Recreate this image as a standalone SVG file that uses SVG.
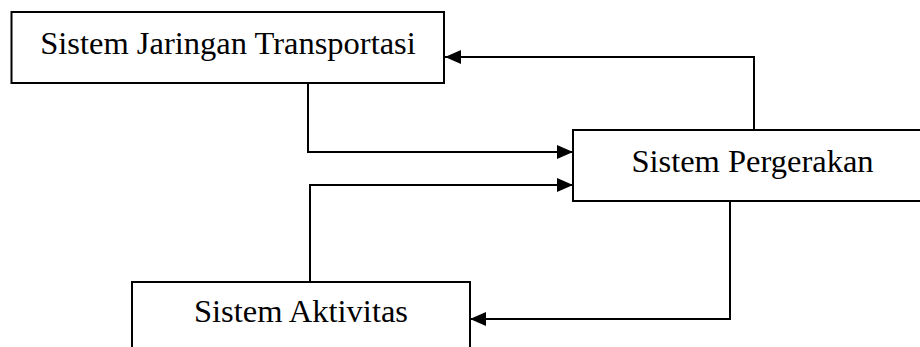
<svg xmlns="http://www.w3.org/2000/svg" width="920" height="347" viewBox="0 0 920 347">
  <style>
    .box { fill: #ffffff; stroke: #000000; stroke-width: 2; }
    .label { font-family: "Liberation Serif", "Times New Roman", serif; font-size: 32.5px; fill: #000000; text-anchor: middle; }
    .link { fill: none; stroke: #000000; stroke-width: 2; marker-end: url(#arrow); }
  </style>
  <defs>
    <marker id="arrow" markerUnits="userSpaceOnUse" markerWidth="16" markerHeight="14" viewBox="0 0 16 14" refX="16" refY="7" orient="auto">
      <path d="M0,0 L16,7 L0,14 Z" fill="#000000"/>
    </marker>
  </defs>
  <rect width="920" height="347" fill="#ffffff"/>

  <g id="connectors">
    <!-- Pergerakan -> Jaringan Transportasi -->
    <path class="link" d="M754,130 V57 H445"/>
    <!-- Jaringan Transportasi -> Pergerakan -->
    <path class="link" d="M308,83 V152 H573"/>
    <!-- Aktivitas -> Pergerakan -->
    <path class="link" d="M310,282 V185 H573"/>
    <!-- Pergerakan -> Aktivitas -->
    <path class="link" d="M730,201 V319 H470"/>
  </g>

  <g id="node-jaringan">
    <rect class="box" x="11.5" y="12" width="432.5" height="71"/>
    <text class="label" x="228" y="54">Sistem Jaringan Transportasi</text>
  </g>

  <g id="node-pergerakan">
    <rect class="box" x="573" y="130" width="360" height="71"/>
    <text class="label" x="752.5" y="172">Sistem Pergerakan</text>
  </g>

  <g id="node-aktivitas">
    <rect class="box" x="132" y="282" width="338" height="80"/>
    <text class="label" x="301" y="322">Sistem Aktivitas</text>
  </g>
</svg>
